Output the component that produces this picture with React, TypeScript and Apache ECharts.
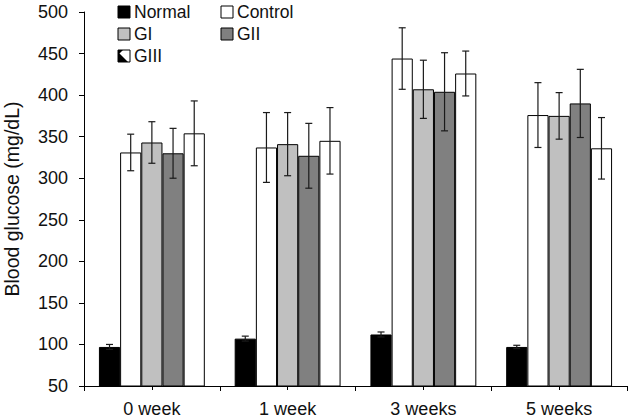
import React, { useEffect, useRef } from "react";
import * as echarts from "echarts";

const categories = ["0 week", "1 week", "3 weeks", "5 weeks"];
const seriesNames = ["Normal", "Control", "GI", "GII", "GIII"];

const normal = [97, 107, 112, 97];
const normalErr = [3, 3, 3, 2];
const control = [331, 337, 444, 376];
const controlErr = [22, 42, 37, 39];
const gI = [343, 341, 407, 375];
const gIErr = [25, 38, 35, 28];
const gII = [330, 327, 404, 390];
const gIIErr = [30, 39, 47, 41];
const gIII = [354, 345, 426, 336];
const gIIIErr = [39, 40, 27, 37];

const yTicks = { min: 50, max: 500, interval: 50 };

const FONT = "'Liberation Sans', Arial, sans-serif";
const fills = ["#000000", "#ffffff", "#c0c0c0", "#808080", "#ffffff"];
const CATEGORY_GAP = 0.22;

const values = [normal, control, gI, gII, gIII];
const errors = [normalErr, controlErr, gIErr, gIIErr, gIIIErr];

function errorSeries(k: number) {
  return {
    type: "custom",
    name: seriesNames[k] + " SD",
    xAxisIndex: 0,
    yAxisIndex: 0,
    z: 5,
    silent: true,
    data: values[k].map((v, i) => [i, v, errors[k][i]]),
    encode: { x: 0, y: 1 },
    renderItem: (_params: any, api: any) => {
      const cat = api.value(0);
      const v = api.value(1);
      const e = api.value(2);
      const band = api.size([1, 0])[0];
      const bw = (band * (1 - CATEGORY_GAP)) / seriesNames.length;
      const cx = api.coord([cat, v])[0] + (k - 2) * bw;
      const top = api.coord([cat, v + e])[1];
      const bot = api.coord([cat, v - e])[1];
      const half = 3.5;
      const style = { stroke: "#1a1a1a", lineWidth: 1.2 };
      return {
        type: "group",
        children: [
          { type: "line", shape: { x1: cx, y1: top, x2: cx, y2: bot }, style },
          { type: "line", shape: { x1: cx - half, y1: top, x2: cx + half, y2: top }, style },
          { type: "line", shape: { x1: cx - half, y1: bot, x2: cx + half, y2: bot }, style },
        ],
      };
    },
  };
}

function legendGraphics() {
  const cols = [118, 221];
  const rows = [12, 34, 56];
  const size = 12;
  const items: any[] = [];
  seriesNames.forEach((name, k) => {
    const x = cols[k % 2];
    const yc = rows[Math.floor(k / 2)];
    const y = yc - size / 2;
    items.push({
      type: "rect",
      shape: { x, y, width: size, height: size },
      style: { fill: fills[k], stroke: "#000", lineWidth: 1 },
    });
    if (name === "GIII") {
      items.push({
        type: "polygon",
        shape: { points: [[x, y + 2], [x, y + size], [x + size - 2, y + size]] },
        style: { fill: "#000" },
      });
      items.push({
        type: "polygon",
        shape: { points: [[x, y], [x + 5, y], [x, y + 5]] },
        style: { fill: "#000" },
      });
    }
    items.push({
      type: "text",
      style: {
        text: name,
        x: x + size + 4,
        y: yc,
        verticalAlign: "middle",
        font: `17.5px ${FONT}`,
        fill: "#111",
      },
    });
  });
  return items;
}

export default function App() {
  const ref = useRef<HTMLDivElement>(null);

  useEffect(() => {
    if (!ref.current) return;
    const chart = echarts.init(ref.current, undefined, { renderer: "svg" });
    const bars = values.map((data, k) => ({
      type: "bar",
      name: seriesNames[k],
      xAxisIndex: 0,
      data,
      barGap: "0%",
      barCategoryGap: `${CATEGORY_GAP * 100}%`,
      itemStyle: { color: fills[k], borderColor: "#000", borderWidth: 1 },
      z: 2,
    }));

    chart.setOption({
      animation: false,
      grid: {
        left: 84,
        right: 2,
        top: 12,
        bottom: 34,
        containLabel: false,
        outerBoundsMode: "none",
      },
      xAxis: [
        {
          type: "category",
          data: categories,
          axisLine: { lineStyle: { color: "#000", width: 1 } },
          axisTick: { show: true, interval: 0, length: 5, lineStyle: { color: "#000" } },
          axisLabel: { color: "#111", fontSize: 18, fontFamily: FONT, margin: 14 },
        },
        {
          type: "category",
          data: categories,
          position: "bottom",
          axisLine: { show: false },
          axisTick: { show: true, alignWithLabel: true, length: 4, lineStyle: { color: "#000" } },
          axisLabel: { show: false },
        },
      ],
      yAxis: {
        type: "value",
        min: yTicks.min,
        max: yTicks.max,
        interval: yTicks.interval,
        name: "Blood glucose (mg/dL)",
        nameLocation: "middle",
        nameGap: 62,
        nameTextStyle: { color: "#111", fontSize: 19.5, fontFamily: FONT },
        axisLine: { show: true, lineStyle: { color: "#000", width: 1 } },
        axisTick: { show: true, length: 5, lineStyle: { color: "#000" } },
        axisLabel: { color: "#111", fontSize: 18, fontFamily: FONT, margin: 16 },
        splitLine: { show: false },
      },
      series: [...bars, ...values.map((_, k) => errorSeries(k))],
      graphic: legendGraphics(),
    });
    return () => chart.dispose();
  }, []);

  return (
    <div
      ref={ref}
      style={{ position: "absolute", left: 0, top: 0, width: 629, height: 420 }}
    />
  );
}
